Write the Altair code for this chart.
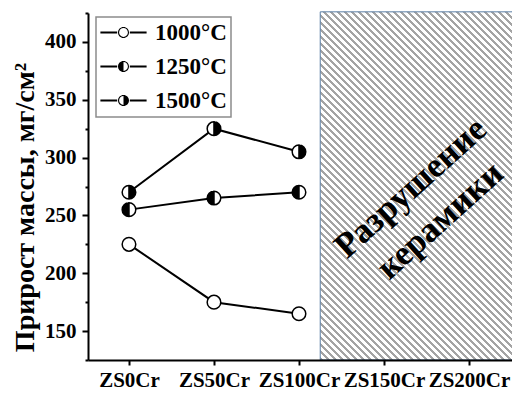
import json
import altair as alt
import pandas as pd

# ---------------- data ----------------
categories = ["ZS0Cr", "ZS50Cr", "ZS100Cr", "ZS150Cr", "ZS200Cr"]
series_names = ["1000°C", "1250°C", "1500°C"]
measured_idx = [0, 1, 2]
gain_1000 = [225, 175, 165]
gain_1250 = [255, 265, 270]
gain_1500 = [270, 325, 305]

y_ticks = [150, 200, 250, 300, 350, 400]
y_minor = [125, 175, 225, 275, 325, 375, 425]
y_domain = [125, 425]
x_domain = [-0.482, 4.506]
x_ticks = [0, 1, 2, 3, 4]

destroyed_from = [2.25]
destroyed_to = [4.7]
destroyed_low = [125]
destroyed_high = [426]
note_text = ["Разрушение\nкерамики"]
note_x = [3.31]
note_y = [274]

rows = []
for name, vals in zip(series_names, [gain_1000, gain_1250, gain_1500]):
    for i, v in zip(measured_idx, vals):
        rows.append({"xi": i, "gain": v, "series": name})
df = pd.DataFrame(rows)

region_df = pd.DataFrame({"x0": destroyed_from, "x1": destroyed_to,
                          "y0": destroyed_low, "y1": destroyed_high})
note_df = pd.DataFrame({"x": note_x, "y": note_y, "t": note_text})

# ---------------- styles ----------------
FONT = "Liberation Serif"
W, H = 424, 347
PAD = {"left": 80, "top": 5, "right": 0, "bottom": 30}

xs = alt.Scale(domain=x_domain, nice=False, zero=False)
ys = alt.Scale(domain=y_domain, nice=False, zero=False)

# hatch via hard-stop linear gradient (diagonal stripes)
px_per_x = W / (x_domain[1] - x_domain[0])
px_per_y = H / (y_domain[1] - y_domain[0])
RW = (destroyed_to[0] - destroyed_from[0]) * px_per_x
RH = (destroyed_high[0] - destroyed_low[0]) * px_per_y
alpha = (RW + RH) / (RW ** 2 + RH ** 2)
period = 7.0
d = period / (RW + RH)
gray_frac = 0.42
GRAY = "#a4a4a4"
stops = []
k = 0
while k * d < 1:
    a = k * d
    b = min(a + gray_frac * d, 1.0)
    stops += [{"offset": a, "color": "#ffffff"}, {"offset": a, "color": GRAY},
              {"offset": b, "color": GRAY}, {"offset": b, "color": "#ffffff"}]
    k += 1
stops.append({"offset": 1.0, "color": "#ffffff"})
hatch = {"gradient": "linear", "x1": 0, "y1": 1, "x2": alpha * RW, "y2": 1 - alpha * RH,
         "stops": stops}

# plot marker shapes (outline drawn by stroke, half filled via winding)
CW = "M-1 0 A1 1 0 1 1 1 0 A1 1 0 1 1 -1 0 Z"
CCW = "M-1 0 A1 1 0 1 0 1 0 A1 1 0 1 0 -1 0 Z"
RIGHT_CCW = "M0 1 A1 1 0 0 0 0 -1 Z"
LEFT_CCW = "M0 -1 A1 1 0 0 0 0 1 Z"
plot_shapes = [CW + " " + CCW, CW + " " + RIGHT_CCW, CW + " " + LEFT_CCW]

# legend symbol shapes: everything drawn as fill (ring + half disk + line bars)
RING = ("M-1 0 A1 1 0 1 1 1 0 A1 1 0 1 1 -1 0 Z "
        "M-0.8 0 A0.8 0.8 0 1 0 0.8 0 A0.8 0.8 0 1 0 -0.8 0 Z")
LEFT_IN = "M0 0.8 A0.8 0.8 0 0 1 0 -0.8 Z"
RIGHT_IN = "M0 -0.8 A0.8 0.8 0 0 1 0 0.8 Z"
BARS = ("M-4.2 -0.18 L-1.15 -0.18 L-1.15 0.18 L-4.2 0.18 Z "
        "M1.15 -0.18 L4.2 -0.18 L4.2 0.18 L1.15 0.18 Z ")
legend_shapes = [BARS + RING, BARS + RING + " " + LEFT_IN, BARS + RING + " " + RIGHT_IN]

label_expr = json.dumps(categories) + "[datum.value]"

x_axis = alt.Axis(values=x_ticks, labelExpr=label_expr, title=None, grid=False,
                  tickSize=5, tickWidth=2, domainWidth=2, labelFont=FONT,
                  labelFontSize=21, labelFontWeight="bold", labelPadding=4,
                  labelOverlap=False, labelFlush=False, zindex=1)
y_axis = alt.Axis(values=y_ticks, title="Прирост массы, мг/см²", grid=False,
                  tickSize=6, tickWidth=2, domainWidth=2, labelFont=FONT,
                  labelFontSize=21, labelFontWeight="bold", labelPadding=6,
                  titleFont=FONT, titleFontSize=28, titleFontWeight="bold",
                  titleX=-55, titleY=194, titleBaseline="alphabetic",
                  titleAlign="center", orient="left", zindex=1)
y_minor_axis = alt.Axis(values=y_minor, title=None, grid=False, labels=False,
                        domain=False, tickSize=3, tickWidth=2, orient="left", zindex=1)


def X(field):
    return alt.X(field, scale=xs, axis=x_axis)


region = alt.Chart(region_df).mark_rect(fill=hatch, stroke="#5b7fa6", strokeWidth=1).encode(
    x=X("x0:Q"), x2="x1:Q",
    y=alt.Y("y0:Q", scale=ys, axis=None), y2="y1:Q")

note = alt.Chart(note_df).mark_text(font=FONT, fontWeight="bold", fontSize=35,
                                    angle=318, lineBreak="\n", lineHeight=44,
                                    align="center", baseline="middle",
                                    color="black").encode(
    x=X("x:Q"), y=alt.Y("y:Q", scale=ys, axis=None), text="t:N")

lines = alt.Chart(df).mark_line(color="black", strokeWidth=2).encode(
    x=X("xi:Q"), y=alt.Y("gain:Q", scale=ys, axis=y_axis), detail="series:N")

base_pts = alt.Chart(df).mark_point(shape=CW, filled=True, fill="white", strokeWidth=0,
                                    size=185, opacity=1).encode(
    x=X("xi:Q"), y=alt.Y("gain:Q", scale=ys, axis=y_minor_axis))

half_pts = alt.Chart(df).mark_point(filled=True, fill="black", stroke="black",
                                    strokeWidth=1.5, size=185, opacity=1).encode(
    x=X("xi:Q"), y=alt.Y("gain:Q", scale=ys, axis=None),
    shape=alt.Shape("series:N", scale=alt.Scale(domain=series_names, range=plot_shapes),
                    legend=None))

legend_pts = alt.Chart(df).mark_point(filled=True, color="black", strokeWidth=0,
                                      size=121, opacity=1, clip=True).encode(
    x=X("xi:Q"),
    y=alt.value(-400),
    shape=alt.Shape("series:N",
                    scale=alt.Scale(domain=series_names, range=legend_shapes),
                    legend=alt.Legend(title=None, orient="none", legendX=8, legendY=4,
                                      labelFont=FONT, labelFontSize=23,
                                      labelFontWeight="bold", labelColor="black",
                                      strokeColor="#8c8c8c", padding=4,
                                      symbolSize=121, symbolStrokeWidth=0,
                                      symbolFillColor="black",
                                      symbolOffset=12, labelOffset=20, rowPadding=10)))

chart = alt.layer(region, note, lines, base_pts, half_pts, legend_pts).resolve_scale(
    shape="independent").resolve_axis(y="independent").properties(
    width=W, height=H, padding=PAD, autosize="none", background="white"
).configure_view(stroke=None).configure_axis(
    domainColor="black", tickColor="black", labelColor="black", titleColor="black"
).configure_legend(strokeWidth=1.5)

chart.save("out.html", embed_options={"renderer": "svg", "actions": False})
